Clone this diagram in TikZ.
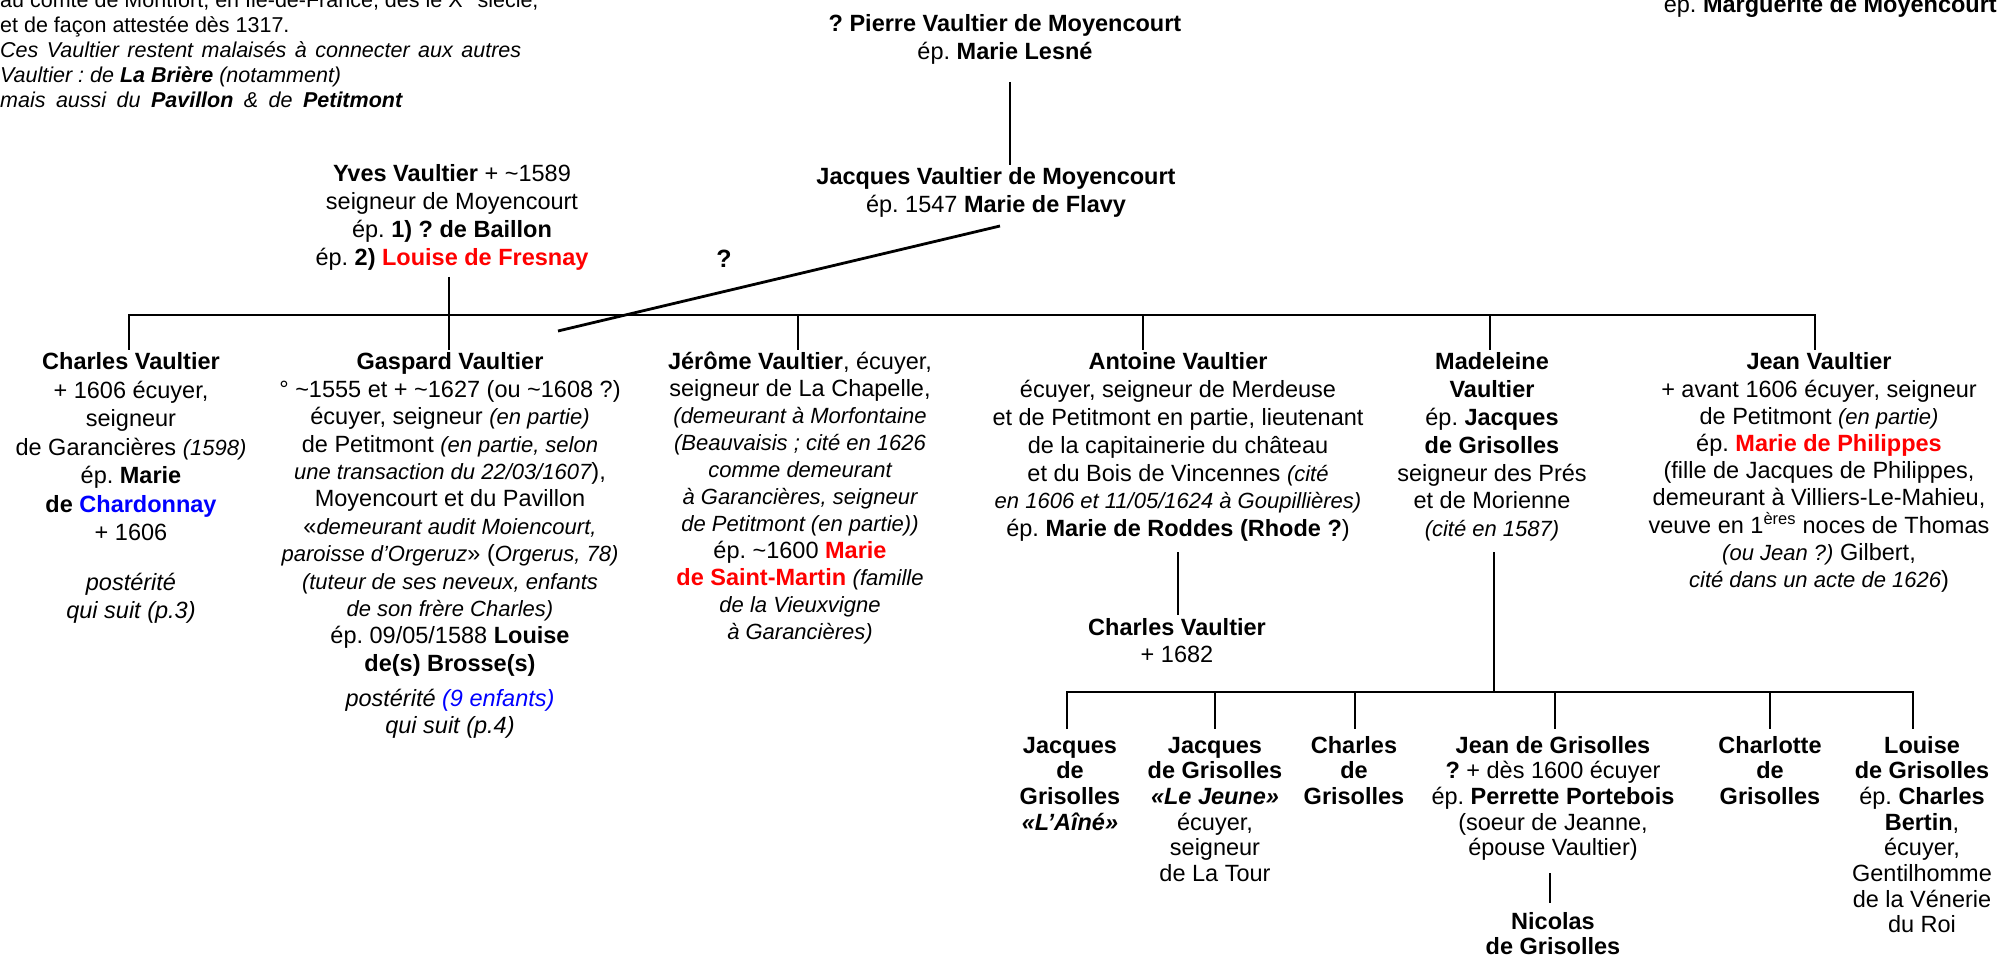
\documentclass[tikz,border=0pt]{standalone}
\usepackage{fontspec}
\setmainfont{Liberation Sans}
\definecolor{myred}{RGB}{255,0,0}
\definecolor{myblue}{RGB}{0,0,255}
\newcommand\blk[3][23.5]{\parbox[t]{640pt}{\centering\fontsize{#1}{#2}\selectfont #3}}
\newcommand\sit[1]{{\fontsize{22}{27}\selectfont\itshape #1}}
\newcommand\tld{\textasciitilde}
\frenchspacing
\begin{document}
\begin{tikzpicture}[x=1pt,y=-1pt,
  person/.style={inner sep=0pt, anchor=base, font=\fontsize{23.5}{27.5}\selectfont},
  link/.style={line width=2.8pt, line join=miter}]
\useasboundingbox (0,0) rectangle (2003,957);
\fill[white] (0,0) rectangle (2003,957);

% --- header notes
\node[person, anchor=base west] (note) at (0,7.5) {\parbox[t]{700pt}{\raggedright\fontsize{21.5}{25}\selectfont
au comte de Montfort, en Ile-de-France, dès le X\textsuperscript{e} siècle,\\
et de façon attestée dès 1317.\\
\makebox[521pt][s]{\itshape Ces Vaultier restent malaisés à connecter aux autres}\\
\textit{Vaultier : de \textbf{La Brière} (notamment)}\\
\makebox[402pt][s]{\itshape mais aussi du \textbf{Pavillon} \& de \textbf{Petitmont}}}};
\node[person, anchor=base east] (marg) at (1997,13) {ép. \textbf{Marguerite de Moyencourt}};

% --- ancestors
\node[person] (pierre) at (1005,32) {\blk{28}{\textbf{? Pierre Vaultier de Moyencourt}\\ ép. \textbf{Marie Lesné}}};
\node[person] (jacques) at (996,185) {\blk{28}{\textbf{Jacques Vaultier de Moyencourt}\\ ép. 1547 \textbf{Marie de Flavy}}};
\node[person] (yves) at (452,182) {\blk{28}{\textbf{Yves Vaultier} + \tld1589\\ seigneur de Moyencourt\\ ép. \textbf{1) ? de Baillon}\\ ép. \textbf{2) \textcolor{myred}{Louise de Fresnay}}}};
\node[person] (quest) at (724,268) {\fontsize{25}{30}\selectfont\textbf{?}};

% --- children
\node[person] (charles) at (131,370) {\blk{28.5}{\textbf{Charles Vaultier}\\ + 1606 écuyer,\\ seigneur\\ de Garancières \sit{(1598)}\\ ép. \textbf{Marie}\\ \textbf{de \textcolor{myblue}{Chardonnay}}\\ + 1606\\[21pt] \textit{postérité}\\ \textit{qui suit (p.3)}}};

\node[person] (gaspard) at (450,370) {\blk{27.4}{\textbf{Gaspard Vaultier}\\
° \tld1555 et + \tld1627 (ou \tld1608 ?)\\
écuyer, seigneur \sit{(en partie)}\\
de Petitmont \sit{(en partie, selon}\\
\sit{une transaction du 22/03/1607}),\\
Moyencourt et du Pavillon\\
«\sit{demeurant audit Moiencourt,}\\
\sit{paroisse d'Orgeruz}» (\sit{Orgerus, 78)}\\
\sit{(tuteur de ses neveux, enfants}\\
\sit{de son frère Charles)}\\
ép. 09/05/1588 \textbf{Louise}\\
\textbf{de(s) Brosse(s)}\\[7.5pt]
\textit{postérité \textcolor{myblue}{(9 enfants)}}\\
\textit{qui suit (p.4)}}};

\node[person] (jerome) at (800,370) {\blk{27}{\textbf{Jérôme Vaultier}, écuyer,\\
seigneur de La Chapelle,\\
\sit{(demeurant à Morfontaine}\\
\sit{(Beauvaisis ; cité en 1626}\\
\sit{comme demeurant}\\
\sit{à Garancières, seigneur}\\
\sit{de Petitmont (en partie))}\\
ép. \tld1600 \textbf{\textcolor{myred}{Marie}}\\
\textbf{\textcolor{myred}{de Saint-Martin}} \sit{(famille}\\
\sit{de la Vieuxvigne}\\
\sit{à Garancières)}}};

\node[person] (antoine) at (1178,370) {\blk{27.8}{\textbf{Antoine Vaultier}\\
écuyer, seigneur de Merdeuse\\
et de Petitmont en partie, lieutenant\\
de la capitainerie du château\\
et du Bois de Vincennes \sit{(cité}\\
\sit{en 1606 et 11/05/1624 à Goupillières)}\\
ép. \textbf{Marie de Roddes (Rhode ?})}};

\node[person] (madeleine) at (1492,370) {\blk{27.8}{\textbf{Madeleine}\\ \textbf{Vaultier}\\ ép. \textbf{Jacques}\\ \textbf{de Grisolles}\\ seigneur des Prés\\ et de Morienne\\ \sit{(cité en 1587)}}};

\node[person] (jean) at (1819,370) {\blk{27.2}{\textbf{Jean Vaultier}\\
+ avant 1606 écuyer, seigneur\\
de Petitmont \sit{(en partie)}\\
ép. \textbf{\textcolor{myred}{Marie de Philippes}}\\
(fille de Jacques de Philippes,\\
demeurant à Villiers-Le-Mahieu,\\
veuve en 1\textsuperscript{ères} noces de Thomas\\
\sit{(ou Jean ?)} Gilbert,\\
\sit{cité dans un acte de 1626})}};

\node[person] (charles2) at (1177,635) {\blk{27}{\textbf{Charles Vaultier}\\ + 1682}};

% --- grandchildren
\node[person] (gA) at (1070,753) {\blk{25.7}{\textbf{Jacques}\\ \textbf{de}\\ \textbf{Grisolles}\\ \textbf{\textit{«L’Aîné»}}}};
\node[person] (gB) at (1215,753) {\blk{25.7}{\textbf{Jacques}\\ \textbf{de Grisolles}\\ \textbf{\textit{«Le Jeune»}}\\ écuyer,\\ seigneur\\ de La Tour}};
\node[person] (gC) at (1354,753) {\blk{25.7}{\textbf{Charles}\\ \textbf{de}\\ \textbf{Grisolles}}};
\node[person] (gD) at (1553,753) {\blk{25.7}{\textbf{Jean de Grisolles}\\ \textbf{?} + dès 1600 écuyer\\ ép. \textbf{Perrette Portebois}\\ (soeur de Jeanne,\\ épouse Vaultier)}};
\node[person] (gE) at (1770,753) {\blk{25.7}{\textbf{Charlotte}\\ \textbf{de}\\ \textbf{Grisolles}}};
\node[person] (gF) at (1922,753) {\blk{25.7}{\textbf{Louise}\\ \textbf{de Grisolles}\\ ép. \textbf{Charles}\\ \textbf{Bertin},\\ écuyer,\\ Gentilhomme\\ de la Vénerie\\ du Roi}};
\node[person] (nicolas) at (1553,929) {\blk{25.7}{\textbf{Nicolas}\\ \textbf{de Grisolles}}};

% --- connector points
\coordinate (pierreDn) at (1010,82);
\coordinate (jacquesUp) at (1010,165);
\coordinate (jacquesDn) at (1000,226);
\coordinate (gaspardQ) at (558,331);
\coordinate (yvesDn) at (449,277);
\coordinate (barA) at (129,315);
\coordinate (barB) at (1815,315);
\coordinate (charlesUp) at (129,350);
\coordinate (gaspardUp) at (449,350);
\coordinate (jeromeUp) at (798,350);
\coordinate (antoineUp) at (1143,350);
\coordinate (madeleineUp) at (1490,350);
\coordinate (jeanUp) at (1815,350);
\coordinate (antoineDn) at (1178,552);
\coordinate (charles2Up) at (1178,615);
\coordinate (madeleineDn) at (1494,552);
\coordinate (barC) at (1067,692);
\coordinate (barD) at (1913,692);
\coordinate (gAUp) at (1067,729);
\coordinate (gBUp) at (1215,729);
\coordinate (gCUp) at (1355,729);
\coordinate (gDUp) at (1555,729);
\coordinate (gEUp) at (1770,729);
\coordinate (gFUp) at (1913,729);
\coordinate (gDDn) at (1550,873);
\coordinate (nicolasUp) at (1550,903);

% --- connectors
\draw[link] (pierreDn) -- (jacquesUp);
\draw[link] (jacquesDn) -- (gaspardQ);
\draw[link] (charlesUp) -- (barA) -- (barB) -- (jeanUp);
\draw[link] (yvesDn) -- (gaspardUp);
\draw[link] (jeromeUp |- barA) -- (jeromeUp);
\draw[link] (antoineUp |- barA) -- (antoineUp);
\draw[link] (madeleineUp |- barA) -- (madeleineUp);
\draw[link] (antoineDn) -- (charles2Up);
\draw[link] (madeleineDn) -- (madeleineDn |- barC);
\draw[link] (gAUp) -- (barC) -- (barD) -- (gFUp);
\draw[link] (gBUp |- barC) -- (gBUp);
\draw[link] (gCUp |- barC) -- (gCUp);
\draw[link] (gDUp |- barC) -- (gDUp);
\draw[link] (gEUp |- barC) -- (gEUp);
\draw[link] (gDDn) -- (nicolasUp);
\end{tikzpicture}
\end{document}
